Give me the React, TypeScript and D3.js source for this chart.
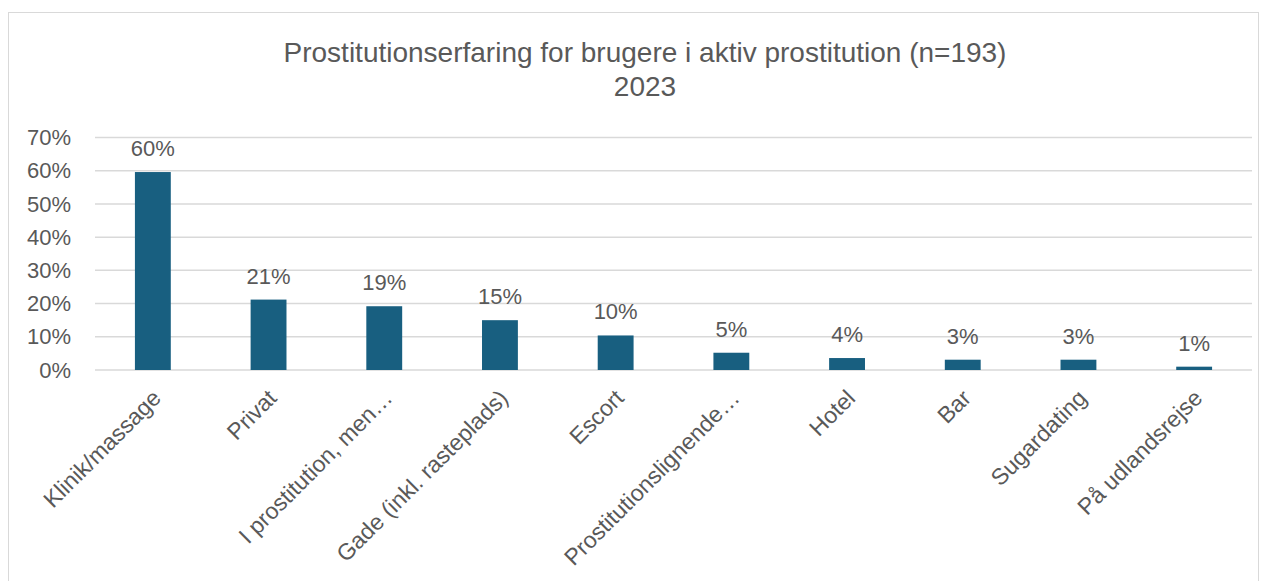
import React from "react";
import * as d3 from "d3";

const categories = [
  "Klinik/massage",
  "Privat",
  "I prostitution, men…",
  "Gade (inkl. rasteplads)",
  "Escort",
  "Prostitutionslignende…",
  "Hotel",
  "Bar",
  "Sugardating",
  "På udlandsrejse",
];
const values = [0.596, 0.212, 0.192, 0.15, 0.104, 0.052, 0.036, 0.031, 0.031, 0.01];
const yTicks = [0, 0.1, 0.2, 0.3, 0.4, 0.5, 0.6, 0.7];
const titleLines = ["Prostitutionserfaring for brugere i aktiv prostitution (n=193)", "2023"];

const W = 1269;
const H = 581;
const FONT = "'Liberation Sans', Arial, sans-serif";
const TEXT = "#595959";
const BAR = "#185f80";

export default function App() {
  const x = d3.scaleBand().domain(categories).range([95, 1252]).paddingInner(0.69).paddingOuter(0.345);
  const y = d3.scaleLinear().domain([0, 0.7]).range([370, 137.5]);
  const pct = d3.format(".0%");

  return (
    <svg width={W} height={H} style={{ position: "absolute", left: 0, top: 0 }} fontFamily={FONT}>
      <rect x={8.5} y={12.5} width={1250} height={H} fill="#fff" stroke="#d9d9d9" />
      {titleLines.map((t, i) => (
        <text key={i} x={645} y={62 + i * 34} textAnchor="middle" fontSize={28} fill={TEXT}>
          {t}
        </text>
      ))}
      {yTicks.map((t) => (
        <g key={t}>
          <line x1={95} x2={1252} y1={y(t)} y2={y(t)} stroke="#d9d9d9" strokeWidth={1.5} />
          <text x={71} y={y(t)} dy="0.35em" textAnchor="end" fontSize={22} fill={TEXT}>
            {pct(t)}
          </text>
        </g>
      ))}
      {categories.map((c, i) => {
        const bx = x(c)!;
        const cx = bx + x.bandwidth() / 2;
        return (
          <g key={c}>
            <rect x={bx} y={y(values[i])} width={x.bandwidth()} height={y(0) - y(values[i])} fill={BAR} />
            <text x={cx} y={y(values[i]) - 16} textAnchor="middle" fontSize={22} fill={TEXT}>
              {pct(values[i])}
            </text>
            <text
              transform={`translate(${cx - 2},${388}) rotate(-45)`}
              textAnchor="end"
              dy="0.71em"
              fontSize={23}
              fill={TEXT}
            >
              {c}
            </text>
          </g>
        );
      })}
    </svg>
  );
}
